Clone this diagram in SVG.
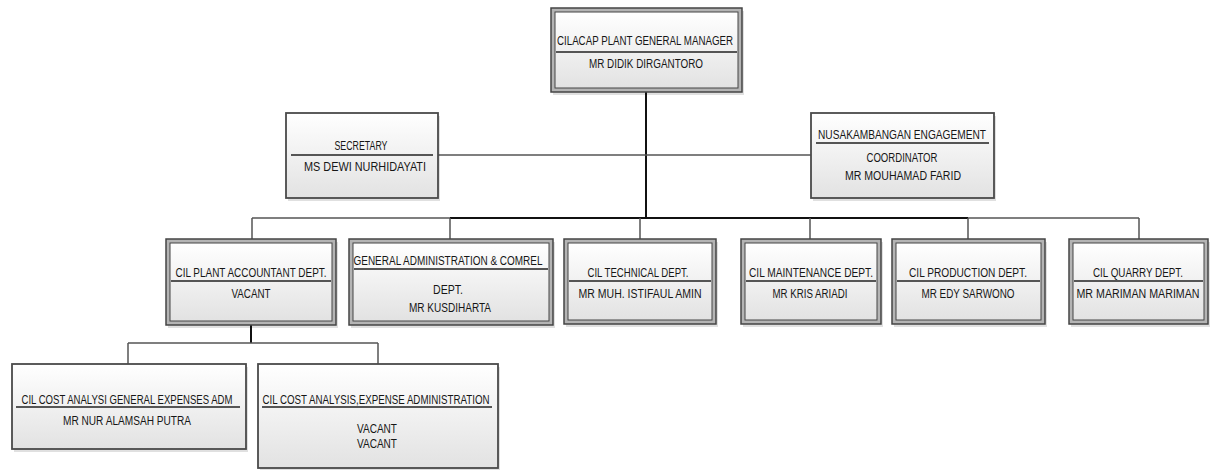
<svg xmlns="http://www.w3.org/2000/svg" width="1213" height="470" viewBox="0 0 1213 470">
<style>
.t{font-family:"Liberation Sans",Arial,sans-serif;font-size:12.5px;fill:#161616;text-anchor:middle}
.sh{fill:#000;opacity:0.12}
.ob{fill:#b4b4b4;stroke:#444;stroke-width:1.5}
.ib{fill:url(#g);stroke:#444;stroke-width:1}
.sb{fill:url(#g);stroke:#4a4a4a;stroke-width:1.8}
.sep{stroke:#555;stroke-width:2}
.c{fill:none;stroke:#555;stroke-width:1.5}
.ck{fill:none;stroke:#111;stroke-width:2}
</style>
<defs>
<linearGradient id="g" x1="0" y1="0" x2="0" y2="1">
<stop offset="0" stop-color="#ffffff"/>
<stop offset="1" stop-color="#e2e2e2"/>
</linearGradient>
</defs>
<rect width="1213" height="470" fill="#fff"/>
<g id="connectors">
<line class="ck" x1="646" y1="92" x2="646" y2="218"/>
<line class="c" x1="438" y1="155" x2="811" y2="155"/>
<line class="c" x1="252" y1="218" x2="1139" y2="218"/>
<line class="ck" x1="450" y1="218" x2="968" y2="218"/>
<line class="c" x1="252" y1="218" x2="252" y2="239"/>
<line class="c" x1="450" y1="218" x2="450" y2="239"/>
<line class="c" x1="640" y1="218" x2="640" y2="239"/>
<line class="c" x1="810" y1="218" x2="810" y2="239"/>
<line class="c" x1="968" y1="218" x2="968" y2="239"/>
<line class="c" x1="1139" y1="218" x2="1139" y2="239"/>
<line class="ck" x1="251" y1="325" x2="251" y2="343"/>
<line class="c" x1="128" y1="343" x2="378" y2="343"/>
<line class="c" x1="128" y1="343" x2="128" y2="364"/>
<line class="c" x1="378" y1="343" x2="378" y2="364"/>
</g>
<g id="gm">
<rect class="sh" x="553" y="11" width="191" height="84"/>
<rect class="ob" x="551" y="8" width="191" height="84"/>
<rect class="ib" x="555" y="12" width="183" height="76"/>
<line class="sep" x1="556" y1="52" x2="737" y2="52"/>
<text class="t" x="645" y="45" textLength="176" lengthAdjust="spacingAndGlyphs">CILACAP PLANT GENERAL MANAGER</text>
<text class="t" x="646" y="68" textLength="114" lengthAdjust="spacingAndGlyphs">MR DIDIK DIRGANTORO</text>
</g>
<g id="secretary">
<rect class="sh" x="288" y="116" width="152" height="85"/>
<rect class="sb" x="286" y="113" width="152" height="85"/>
<line class="sep" x1="291" y1="155" x2="433" y2="155"/>
<text class="t" x="361" y="150" textLength="53" lengthAdjust="spacingAndGlyphs">SECRETARY</text>
<text class="t" x="365" y="171" textLength="122" lengthAdjust="spacingAndGlyphs">MS DEWI NURHIDAYATI</text>
</g>
<g id="nusakambangan">
<rect class="sh" x="813" y="116" width="183" height="85"/>
<rect class="sb" x="811" y="113" width="183" height="85"/>
<line class="sep" x1="816" y1="143" x2="989" y2="143"/>
<text class="t" x="902" y="139" textLength="168" lengthAdjust="spacingAndGlyphs">NUSAKAMBANGAN ENGAGEMENT</text>
<text class="t" x="902" y="162" textLength="71" lengthAdjust="spacingAndGlyphs">COORDINATOR</text>
<text class="t" x="903" y="180" textLength="116" lengthAdjust="spacingAndGlyphs">MR MOUHAMAD FARID</text>
</g>
<g id="accountant">
<rect class="sh" x="168" y="242" width="170" height="86"/>
<rect class="ob" x="166" y="239" width="170" height="86"/>
<rect class="ib" x="170" y="243" width="162" height="78"/>
<line class="sep" x1="171" y1="281" x2="331" y2="281"/>
<text class="t" x="251" y="277" textLength="151" lengthAdjust="spacingAndGlyphs">CIL PLANT ACCOUNTANT DEPT.</text>
<text class="t" x="251" y="298" textLength="39" lengthAdjust="spacingAndGlyphs">VACANT</text>
</g>
<g id="genadmin">
<rect class="sh" x="351" y="242" width="204" height="86"/>
<rect class="ob" x="349" y="239" width="204" height="86"/>
<rect class="ib" x="353" y="243" width="196" height="78"/>
<line class="sep" x1="354" y1="269" x2="548" y2="269"/>
<text class="t" x="448" y="265" textLength="189" lengthAdjust="spacingAndGlyphs">GENERAL ADMINISTRATION &amp; COMREL</text>
<text class="t" x="448" y="294" textLength="30" lengthAdjust="spacingAndGlyphs">DEPT.</text>
<text class="t" x="450" y="312" textLength="82" lengthAdjust="spacingAndGlyphs">MR KUSDIHARTA</text>
</g>
<g id="technical">
<rect class="sh" x="566" y="242" width="152" height="85"/>
<rect class="ob" x="564" y="239" width="152" height="85"/>
<rect class="ib" x="568" y="243" width="144" height="77"/>
<line class="sep" x1="569" y1="281" x2="711" y2="281"/>
<text class="t" x="638" y="277" textLength="101" lengthAdjust="spacingAndGlyphs">CIL TECHNICAL DEPT.</text>
<text class="t" x="640" y="298" textLength="123" lengthAdjust="spacingAndGlyphs">MR MUH. ISTIFAUL AMIN</text>
</g>
<g id="maintenance">
<rect class="sh" x="743" y="242" width="140" height="85"/>
<rect class="ob" x="741" y="239" width="140" height="85"/>
<rect class="ib" x="745" y="243" width="132" height="77"/>
<line class="sep" x1="746" y1="281" x2="876" y2="281"/>
<text class="t" x="811" y="277" textLength="124" lengthAdjust="spacingAndGlyphs">CIL MAINTENANCE DEPT.</text>
<text class="t" x="810" y="298" textLength="75" lengthAdjust="spacingAndGlyphs">MR KRIS ARIADI</text>
</g>
<g id="production">
<rect class="sh" x="894" y="242" width="153" height="85"/>
<rect class="ob" x="892" y="239" width="153" height="85"/>
<rect class="ib" x="896" y="243" width="145" height="77"/>
<line class="sep" x1="897" y1="281" x2="1040" y2="281"/>
<text class="t" x="968" y="277" textLength="118" lengthAdjust="spacingAndGlyphs">CIL PRODUCTION DEPT.</text>
<text class="t" x="968" y="298" textLength="93" lengthAdjust="spacingAndGlyphs">MR EDY SARWONO</text>
</g>
<g id="quarry">
<rect class="sh" x="1071" y="242" width="139" height="85"/>
<rect class="ob" x="1069" y="239" width="139" height="85"/>
<rect class="ib" x="1073" y="243" width="131" height="77"/>
<line class="sep" x1="1074" y1="281" x2="1203" y2="281"/>
<text class="t" x="1138" y="277" textLength="90" lengthAdjust="spacingAndGlyphs">CIL QUARRY DEPT.</text>
<text class="t" x="1138" y="298" textLength="123" lengthAdjust="spacingAndGlyphs">MR MARIMAN MARIMAN</text>
</g>
<g id="costgeneral">
<rect class="sh" x="14" y="367" width="234" height="85"/>
<rect class="sb" x="12" y="364" width="234" height="85"/>
<line class="sep" x1="16" y1="407" x2="240" y2="407"/>
<text class="t" x="127" y="404" textLength="211" lengthAdjust="spacingAndGlyphs">CIL COST ANALYSI GENERAL EXPENSES ADM</text>
<text class="t" x="127" y="425" textLength="128" lengthAdjust="spacingAndGlyphs">MR NUR ALAMSAH PUTRA</text>
</g>
<g id="costexpense">
<rect class="sh" x="260" y="367" width="240" height="104"/>
<rect class="sb" x="258" y="364" width="240" height="104"/>
<line class="sep" x1="262" y1="407" x2="492" y2="407"/>
<text class="t" x="376" y="404" textLength="227" lengthAdjust="spacingAndGlyphs">CIL COST ANALYSIS,EXPENSE ADMINISTRATION</text>
<text class="t" x="377" y="433" textLength="40" lengthAdjust="spacingAndGlyphs">VACANT</text>
<text class="t" x="377" y="448" textLength="40" lengthAdjust="spacingAndGlyphs">VACANT</text>
</g>
</svg>
